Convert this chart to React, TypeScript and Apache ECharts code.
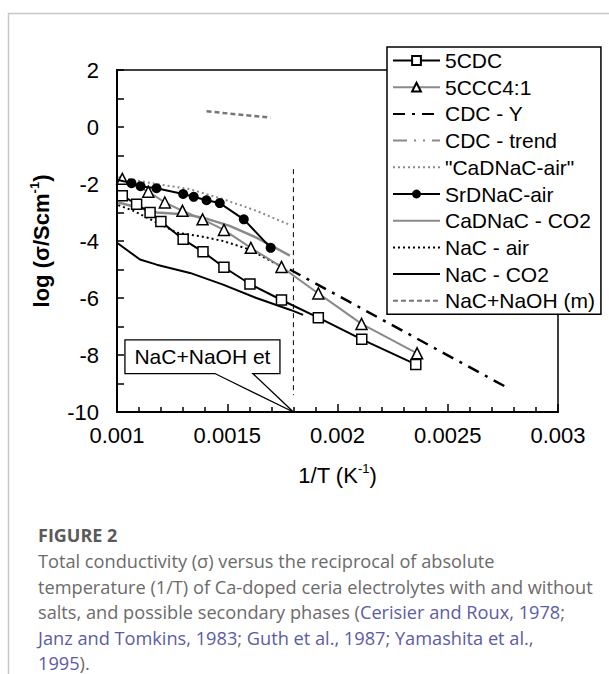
import React, { useEffect, useRef } from "react";
import * as echarts from "echarts";

// ---------- data ----------
const xTickLabels = ["0.001", "0.0015", "0.002", "0.0025", "0.003"];
const yTickLabels = ["-10", "-8", "-6", "-4", "-2", "0", "2"];

const legendNames = [
  "5CDC",
  "5CCC4:1",
  "CDC - Y",
  "CDC - trend",
  '"CaDNaC-air"',
  "SrDNaC-air",
  "CaDNaC - CO2",
  "NaC - air",
  "NaC - CO2",
  "NaC+NaOH (m)",
];
const markerNames = ["5CDC", "5CCC4:1", "SrDNaC-air"];

const cdc5X = [0.001024, 0.001089, 0.00115, 0.001199, 0.0013, 0.00139, 0.001485, 0.001603, 0.001746, 0.001913, 0.00211, 0.002355];
const cdc5Y = [-2.41, -2.71, -3.0, -3.32, -3.94, -4.38, -4.92, -5.51, -6.07, -6.69, -7.45, -8.33];

const ccc41X = [0.001024, 0.001142, 0.001217, 0.001297, 0.001388, 0.001485, 0.001607, 0.001746, 0.001913, 0.002109, 0.002361];
const ccc41Y = [-1.82, -2.27, -2.65, -2.94, -3.24, -3.61, -4.24, -4.91, -5.84, -6.91, -7.94];

const cdcYX = [0.001784, 0.002759];
const cdcYY = [-5.0, -9.1];

const cdcTrendX: number[] = [];
const cdcTrendY: number[] = [];

const caAirX = [0.001006, 0.00118, 0.00133, 0.001481, 0.001632, 0.001776];
const caAirY = [-1.76, -2.0, -2.18, -2.53, -2.94, -3.41];

const srAirX = [0.001, 0.001066, 0.001107, 0.001179, 0.0013, 0.001348, 0.001406, 0.001466, 0.001575, 0.001697];
const srAirY = [-1.85, -1.97, -2.08, -2.15, -2.35, -2.45, -2.57, -2.67, -3.24, -4.24];

const caCO2X = [0.001006, 0.00118, 0.0013, 0.00139, 0.001511, 0.001632, 0.001784];
const caCO2Y = [-2.65, -3.0, -3.06, -3.18, -3.47, -3.88, -4.51];

const nacAirX = [0.001006, 0.001074, 0.00118, 0.001271, 0.001376, 0.001481, 0.001602, 0.001752];
const nacAirY = [-2.74, -2.94, -3.35, -3.71, -3.83, -4.0, -4.3, -4.93];

const nacCO2X = [0.001, 0.001104, 0.00118, 0.001331, 0.001481, 0.001632, 0.001784, 0.001844];
const nacCO2Y = [-4.06, -4.65, -4.83, -5.12, -5.53, -6.0, -6.41, -6.59];

const nacNaOHX = [0.001406, 0.001696];
const nacNaOHY = [0.55, 0.33];

const vLineX = [0.0018, 0.0018];
const vLineY = [-1.48, -9.41];

// callout "NaC+NaOH et" (data coordinates)
const calloutText = "NaC+NaOH et";
const calloutBoxX = [0.001036, 0.001739];
const calloutBoxY = [-7.47, -8.65];
const calloutBaseX = [0.001444, 0.001616];
const calloutTip = [0.0018, -10];

const captionTitle = "FIGURE 2";

// ---------- helpers ----------
const zip = (xs: number[], ys: number[]) => xs.map((x, i) => [x, ys[i]]);
const FONT = "'Liberation Sans', Arial, sans-serif";
const CAP_FONT = "'Open Sans', 'Noto Sans', sans-serif";

export default function App() {
  const ref = useRef<HTMLDivElement>(null);

  useEffect(() => {
    if (!ref.current) return;
    const chart = echarts.init(ref.current, undefined, { renderer: "svg" });

    const lineSeries = (name: string, data: any[], extra: any) => ({
      name,
      type: "line",
      data,
      animation: false,
      symbol: "none",
      ...extra,
    });

    const srData: any[] = zip(srAirX, srAirY).map((p, i) => (i === 0 ? { value: p, symbol: "none" } : p));

    const option: any = {
      animation: false,
      backgroundColor: "#fff",
      grid: {
        left: 117,
        top: 70,
        right: 51,
        bottom: 262,
        show: true,
        borderColor: "#000",
        borderWidth: 1.5,
        backgroundColor: "transparent",
      },
      xAxis: {
        type: "value",
        min: 0.001,
        max: 0.003,
        interval: 0.0005,
        axisLine: { onZero: false, lineStyle: { color: "#000", width: 2 } },
        axisTick: { inside: true, length: 8, lineStyle: { color: "#000", width: 1.5 } },
        minorTick: { show: true, splitNumber: 5, length: 5, lineStyle: { color: "#000", width: 1.5 } },
        splitLine: { show: false },
        minorSplitLine: { show: false },
        axisLabel: {
          color: "#000",
          fontSize: 22,
          fontFamily: FONT,
          margin: 12,
          formatter: (v: number) => xTickLabels[Math.round((v - 0.001) / 0.0005)] ?? "",
        },
        name: "{t|1/T (K}{s|-1}{t|)}",
        nameLocation: "middle",
        nameGap: 50,
        nameTextStyle: {
          rich: {
            t: { fontSize: 22, fontFamily: FONT, color: "#000", lineHeight: 26 },
            s: { fontSize: 13, fontFamily: FONT, color: "#000", lineHeight: 14, verticalAlign: "top" },
          },
        },
      },
      yAxis: {
        type: "value",
        min: -10,
        max: 2,
        interval: 2,
        axisLine: { onZero: false, lineStyle: { color: "#000", width: 2 } },
        axisTick: { inside: true, length: 7, lineStyle: { color: "#000", width: 1.5 } },
        minorTick: { show: true, splitNumber: 2, length: 7, lineStyle: { color: "#000", width: 1.5 } },
        splitLine: { show: false },
        minorSplitLine: { show: false },
        axisLabel: {
          color: "#000",
          fontSize: 22,
          fontFamily: FONT,
          margin: 18,
          formatter: (v: number) => yTickLabels[Math.round((v + 10) / 2)] ?? "",
        },
        name: "{t|log (σ/Scm}{s|-1}{t|)}",
        nameLocation: "middle",
        nameGap: 63,
        nameTextStyle: {
          rich: {
            t: { fontSize: 22, fontWeight: "bold", fontFamily: FONT, color: "#000", lineHeight: 26 },
            s: { fontSize: 13, fontWeight: "bold", fontFamily: FONT, color: "#000", lineHeight: 14, verticalAlign: "top" },
          },
        },
      },
      legend: {
        data: legendNames.map((n) =>
          markerNames.includes(n) ? { name: n } : { name: n, itemStyle: { opacity: 0 } }
        ),
        orient: "vertical",
        left: 387,
        top: 47,
        backgroundColor: "#fff",
        borderColor: "#000",
        borderWidth: 1.5,
        borderRadius: 0,
        padding: [3, 6, 3, 5],
        itemWidth: 47,
        itemHeight: 11,
        itemGap: 5.7,
        textStyle: { fontSize: 21, color: "#000", fontFamily: FONT, lineHeight: 21 },
        selectedMode: false,
      },
      series: [
        lineSeries("", zip(vLineX, vLineY), {
          lineStyle: { color: "#000", width: 1, type: [5, 4] },
          silent: true,
          z: 1,
        }),
        lineSeries("NaC - CO2", zip(nacCO2X, nacCO2Y), {
          lineStyle: { color: "#000", width: 2 },
          itemStyle: { color: "#000" },
        }),
        lineSeries("NaC - air", zip(nacAirX, nacAirY), {
          lineStyle: { color: "#000", width: 2, type: [2, 3] },
          itemStyle: { color: "#000" },
        }),
        lineSeries('"CaDNaC-air"', zip(caAirX, caAirY), {
          lineStyle: { color: "#8a8a8a", width: 2, type: [2, 3] },
          itemStyle: { color: "#8a8a8a" },
        }),
        lineSeries("CaDNaC - CO2", zip(caCO2X, caCO2Y), {
          lineStyle: { color: "#8a8a8a", width: 2.5 },
          itemStyle: { color: "#8a8a8a" },
        }),
        lineSeries("CDC - trend", zip(cdcTrendX, cdcTrendY), {
          lineStyle: { color: "#8a8a8a", width: 2.5, type: [14, 7, 2, 7, 2, 7] },
          itemStyle: { color: "#8a8a8a" },
        }),
        lineSeries("CDC - Y", zip(cdcYX, cdcYY), {
          lineStyle: { color: "#000", width: 2.5, type: [12, 7, 3, 7] },
          itemStyle: { color: "#000" },
        }),
        lineSeries("NaC+NaOH (m)", zip(nacNaOHX, nacNaOHY), {
          lineStyle: { color: "#777", width: 2.5, type: [5, 3] },
          itemStyle: { color: "#777" },
        }),
        lineSeries("5CCC4:1", zip(ccc41X, ccc41Y), {
          symbol: "triangle",
          symbolSize: 11,
          showSymbol: true,
          lineStyle: { color: "#8a8a8a", width: 2 },
          itemStyle: { color: "#fff", borderColor: "#000", borderWidth: 1.5 },
          z: 4,
        }),
        lineSeries("5CDC", zip(cdc5X, cdc5Y), {
          symbol: "rect",
          symbolSize: 10,
          showSymbol: true,
          lineStyle: { color: "#000", width: 2 },
          itemStyle: { color: "#fff", borderColor: "#000", borderWidth: 1.5 },
          z: 5,
        }),
        lineSeries("SrDNaC-air", srData, {
          symbol: "circle",
          symbolSize: 10,
          showSymbol: true,
          lineStyle: { color: "#000", width: 2 },
          itemStyle: { color: "#000" },
          z: 6,
        }),
      ],
    };

    chart.setOption(option);

    const px = (x: number, y: number) => chart.convertToPixel({ gridIndex: 0 }, [x, y]) as number[];
    const tl = px(calloutBoxX[0], calloutBoxY[0]);
    const br = px(calloutBoxX[1], calloutBoxY[1]);
    const b1 = px(calloutBaseX[0], calloutBoxY[1]);
    const b2 = px(calloutBaseX[1], calloutBoxY[1]);
    const tip = px(calloutTip[0], calloutTip[1]);

    const gray = "#6b6b6b";
    const link = "#5a5ca6";
    const capRich = {
      g: { fontSize: 18.2, fontFamily: CAP_FONT, fill: gray, color: gray },
      l: { fontSize: 18.2, fontFamily: CAP_FONT, fill: link, color: link },
    };
    const capLines = [
      "{g|Total conductivity (σ) versus the reciprocal of absolute}",
      "{g|temperature (1/T) of Ca-doped ceria electrolytes with and without}",
      "{g|salts, and possible secondary phases (}{l|Cerisier and Roux, 1978}{g|;}",
      "{l|Janz and Tomkins, 1983}{g|; }{l|Guth et al., 1987}{g|; }{l|Yamashita et al.,}",
      "{l|1995}{g|).}",
    ];
    const capY0 = 561;
    const capStep = 25.6;

    chart.setOption({
      graphic: [
        {
          type: "rect",
          shape: { x: 8.5, y: 13.5, width: 700, height: 700 },
          style: { fill: "none", stroke: "#c8c8c8", lineWidth: 1.5 },
          silent: true,
          z: 0,
        },
        {
          type: "polygon",
          shape: {
            points: [
              [tl[0], tl[1]],
              [br[0], tl[1]],
              [br[0], br[1]],
              [b2[0], br[1]],
              [tip[0], tip[1]],
              [b1[0], br[1]],
              [tl[0], br[1]],
            ],
          },
          style: { fill: "#fff", stroke: "#000", lineWidth: 1.3 },
          z: 20,
        },
        {
          type: "text",
          x: (tl[0] + br[0]) / 2,
          y: (tl[1] + br[1]) / 2,
          style: {
            text: calloutText,
            fontSize: 21,
            fontFamily: FONT,
            fill: "#000",
            align: "center",
            verticalAlign: "middle",
          },
          z: 21,
        },
        {
          type: "text",
          x: 38,
          y: 535,
          style: {
            text: captionTitle,
            fontSize: 18,
            fontWeight: "bold",
            fontFamily: CAP_FONT,
            fill: "#5a5a5a",
            verticalAlign: "middle",
          },
        },
        ...capLines.map((t, i) => ({
          type: "text",
          x: 38,
          y: capY0 + i * capStep,
          style: { text: t, rich: capRich, verticalAlign: "middle", fill: gray },
        })),
      ],
    });

    return () => chart.dispose();
  }, []);

  return (
    <div
      ref={ref}
      style={{ position: "absolute", left: 0, top: 0, width: 609, height: 674 }}
    />
  );
}
